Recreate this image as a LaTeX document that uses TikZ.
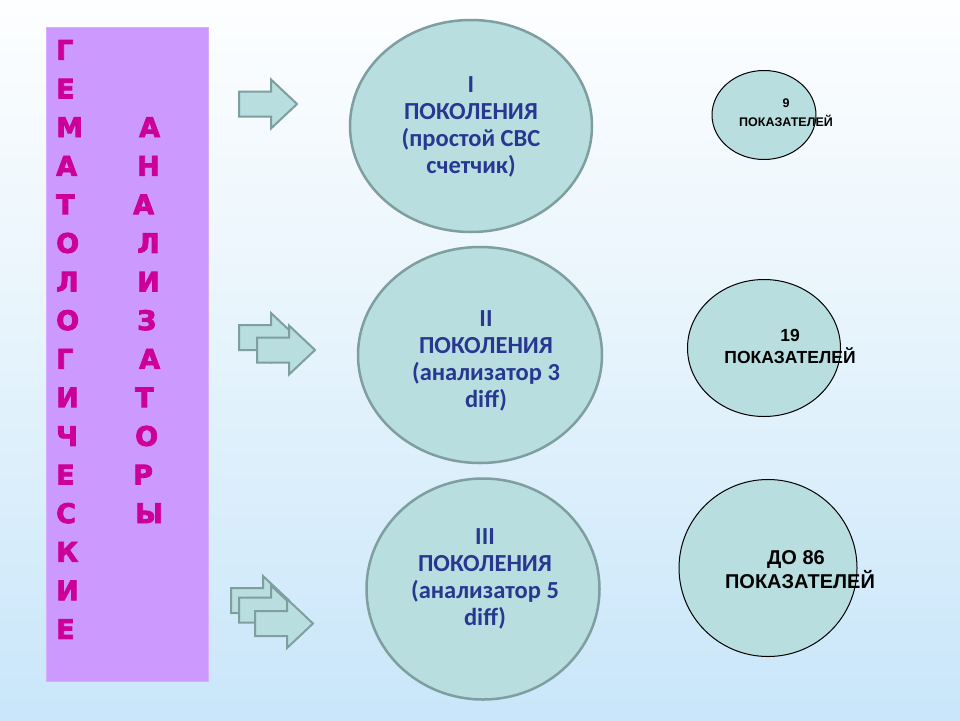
\documentclass[tikz,border=0pt]{standalone}
\usepackage{fontspec}
\setmainfont{Liberation Sans}
\newfontfamily\calfont{Carlito}
\newfontfamily\heavyfont[FakeBold=3]{DejaVu Sans Bold}
\newfontfamily\arialfont{Liberation Sans}
\definecolor{bgtop}{HTML}{FDFEFF}
\definecolor{bgmid}{HTML}{E9F5FC}
\definecolor{bgbot}{HTML}{C9E6FA}
\definecolor{lilac}{HTML}{CC99FF}
\definecolor{magenta}{HTML}{CC0099}
\definecolor{tealfill}{HTML}{B9DEE0}
\definecolor{tealline}{HTML}{7E9E9F}
\definecolor{navy}{HTML}{283891}
\tikzset{
  bigcirc/.style={ellipse, draw=tealline, line width=2.5pt, fill=tealfill, inner sep=0pt},
  smallcirc/.style={ellipse, draw=black, line width=1pt, fill=tealfill, inner sep=0pt},
  gentext/.style={font=\calfont\bfseries\fontsize{24.5}{27}\selectfont, text=navy, align=center, inner sep=0pt},
  cnttext/.style={font=\arialfont\bfseries, text=black, align=center, inner sep=0pt},
  letter/.style={font=\heavyfont\fontsize{27}{30}\selectfont, text=magenta, inner sep=0pt},
  arrowshape/.style={fill=tealfill, draw=tealline, line width=2pt, line join=miter},
  bigarrow/.pic={\draw[arrowshape] (0,-12.5) -- (32,-12.5) -- (32,-24.5) -- (58,0) -- (32,24.5) -- (32,12.5) -- (0,12.5) -- cycle;}
}
\usetikzlibrary{shapes.geometric}
\begin{document}
\begin{tikzpicture}[x=1pt,y=-1pt]
\useasboundingbox (0,0) rectangle (960,720);
% background
\shade[top color=bgtop, bottom color=bgmid] (0,0) rectangle (960,300);
\shade[top color=bgmid, bottom color=bgbot] (0,300) rectangle (960,720);
% lilac bar
\node[fill=lilac, draw=lilac!80!white, line width=1pt, minimum width=162pt, minimum height=654pt, inner sep=0pt, anchor=north west] (bar) at (46,27) {};
% left column letters
\foreach \l [count=\i] in {Г,Е,М,А,Т,О,Л,О,Г,И,Ч,Е,С,К,И,Е}{
  \node[letter, anchor=west] (L\i) at (56, {50+38.6*(\i-1)}) {\l};
}
% right column letters
\foreach \l/\r/\xx in {А/3/139,Н/4/137,А/5/133,Л/6/137,И/7/137,З/8/137,А/9/139,Т/10/135,О/11/135,Р/12/133,Ы/13/135}{
  \node[letter, anchor=west] (R\r) at (\xx, {50+38.6*(\r-1)}) {\l};
}
% arrows
\pic (a1) at (239,104) {bigarrow};
\pic (a2a) at (239,337.5) {bigarrow};
\pic (a2b) at (257,350) {bigarrow};
\pic (a3a) at (231,600.5) {bigarrow};
\pic (a3b) at (239,610) {bigarrow};
\pic (a3c) at (255,623.5) {bigarrow};
% generation circles
\node[bigcirc, minimum width=242pt, minimum height=212pt] (g1) at (471,126) {};
\node[gentext] (g1t) at (471,127) {I\\ПОКОЛЕНИЯ\\(простой СВС\\счетчик)};
\node[bigcirc, minimum width=244pt, minimum height=216pt] (g2) at (480,355) {};
\node[gentext] (g2t) at (486,361) {II\\ПОКОЛЕНИЯ\\(анализатор 3\\diff)};
\node[bigcirc, minimum width=233pt, minimum height=221pt] (g3) at (483,589) {};
\node[gentext] (g3t) at (485,579) {III\\ПОКОЛЕНИЯ\\(анализатор 5\\diff)};
% count circles
\node[smallcirc, minimum width=104pt, minimum height=89pt] (c1) at (764,115) {};
\node[cnttext, font=\arialfont\bfseries\fontsize{12.5}{19}\selectfont] (c1t) at (786,113) {9\\ПОКАЗАТЕЛЕЙ};
\node[smallcirc, minimum width=153pt, minimum height=137pt] (c2) at (764,348) {};
\node[cnttext, font=\arialfont\bfseries\fontsize{17.5}{22}\selectfont] (c2t) at (790,346) {19\\ПОКАЗАТЕЛЕЙ};
\node[smallcirc, minimum width=178pt, minimum height=177pt] (c3) at (768,568) {};
\node[cnttext, font=\arialfont\bfseries\fontsize{20}{24}\selectfont] (c3t) at (800,570) {\hspace*{-8pt}ДО 86\\ПОКАЗАТЕЛЕЙ};
\end{tikzpicture}
\end{document}
